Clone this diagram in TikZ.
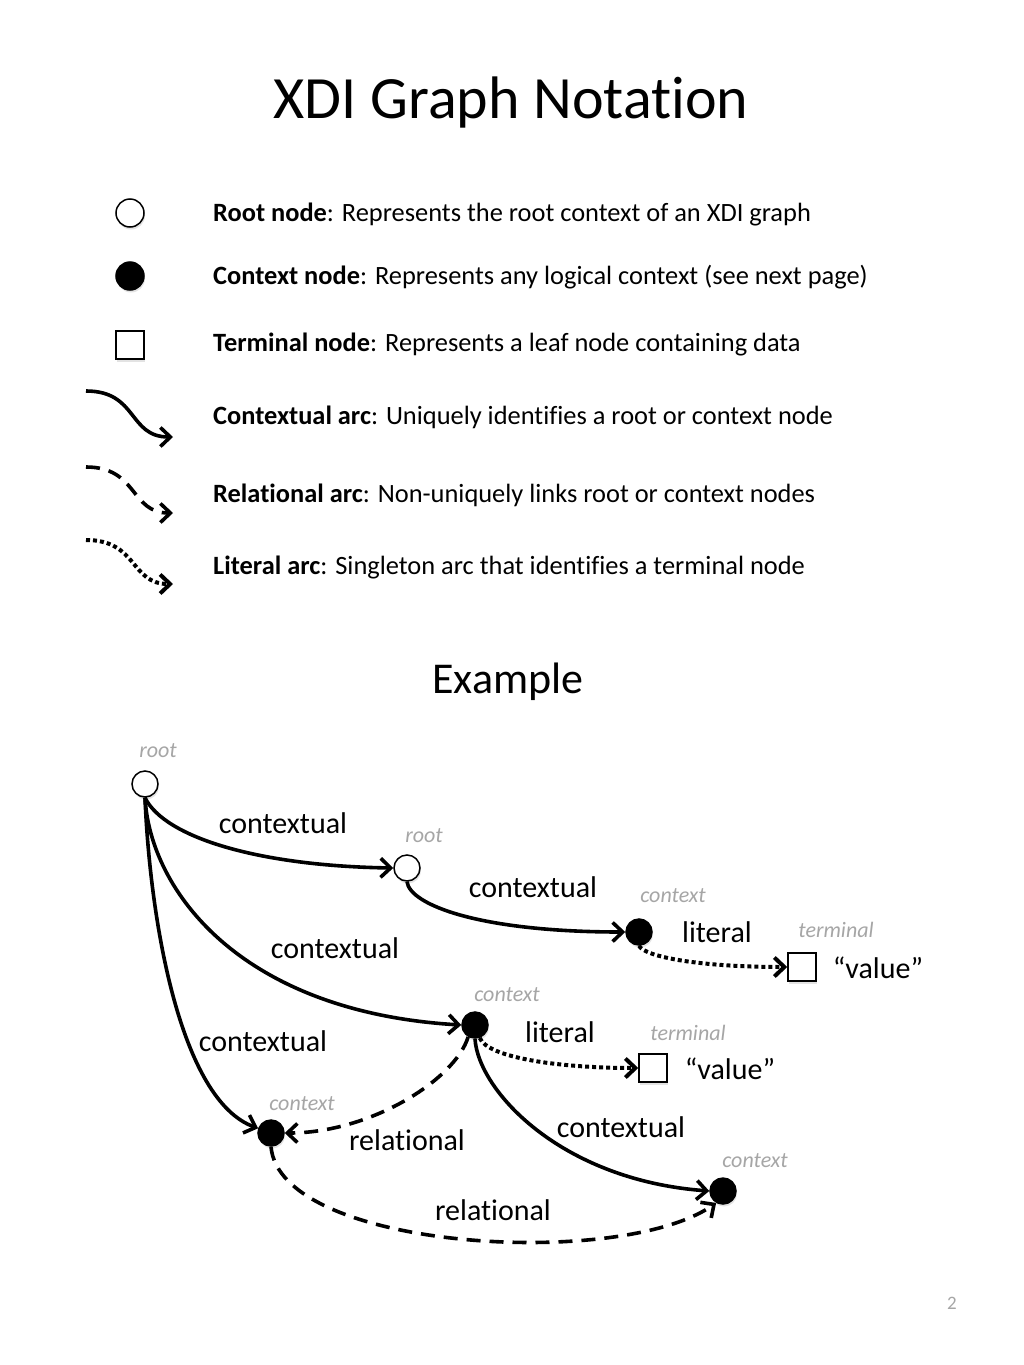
\documentclass[tikz,border=0pt]{standalone}
\usepackage{fontspec}
\setmainfont{Carlito}[Ligatures=CommonOff]
\usetikzlibrary{arrows.meta,shadows}
\definecolor{lblgray}{RGB}{166,166,166}
\begin{document}
\begin{tikzpicture}[x=1pt,y=-1pt,
  shad/.style={drop shadow={opacity=0.22,shadow xshift=1pt,shadow yshift=-2.5pt}},
  rootn/.style={circle,draw,line width=1.5pt,fill=white,minimum size=26pt,inner sep=0pt,shad},
  ctxn/.style={circle,draw,line width=1.5pt,fill=black,minimum size=26pt,inner sep=0pt,shad},
  termn/.style={rectangle,draw,line width=1.5pt,fill=white,minimum size=28pt,inner sep=0pt,shad},
  tip/.style={-{Straight Barb[length=10pt,width=19pt]}},
  carc/.style={line width=3.6pt,tip},
  rarc/.style={line width=3.6pt,tip,dash pattern=on 14pt off 9pt},
  larc/.style={line width=4pt,tip,dash pattern=on 4pt off 3pt},
  legtxt/.style={anchor=base west,inner sep=0pt,font=\fontsize{26.4}{31}\selectfont},
  lbl/.style={anchor=base,inner sep=0pt,font=\fontsize{30}{36}\selectfont},
  glbl/.style={anchor=base,inner sep=0pt,text=lblgray,font=\fontsize{22}{26}\selectfont\itshape}
]
\useasboundingbox[fill=white] (0,0) rectangle (1024,1365);

% title
\node[anchor=base,inner sep=0pt,font=\fontsize{60}{70}\selectfont] (title) at (511,118) {XDI Graph Notation};

% legend symbols
\node[rootn,minimum size=28pt] (lroot) at (130,213) {};
\node[ctxn,minimum size=28pt] (lctx) at (130,276) {};
\node[termn] (lterm) at (130,345) {};
\coordinate (la1) at (86,391); \coordinate (lb1) at (173,437);
\coordinate (la2) at (86,467); \coordinate (lb2) at (173,513);
\coordinate (la3) at (86,540); \coordinate (lb3) at (173,584);
\draw[carc] (la1) .. controls (138,391) and (128,437) .. (lb1);
\draw[rarc] (la2) .. controls (138,467) and (130,513) .. (lb2);
\draw[larc] (la3) .. controls (138,540) and (130,584) .. (lb3);

% legend texts
\node[legtxt] (t1) at (213,221) {\textbf{Root node}: Represents the root context of an XDI graph};
\node[legtxt] (t2) at (213,284) {\textbf{Context node}: Represents any logical context (see next page)};
\node[legtxt] (t3) at (213,351) {\textbf{Terminal node}: Represents a leaf node containing data};
\node[legtxt] (t4) at (213,424) {\textbf{Contextual arc}: Uniquely identifies a root or context node};
\node[legtxt] (t5) at (213,502) {\textbf{Relational arc}: Non-uniquely links root or context nodes};
\node[legtxt] (t6) at (213,574) {\textbf{Literal arc}: Singleton arc that identifies a terminal node};

% example heading
\node[anchor=base,inner sep=0pt,font=\fontsize{44}{52}\selectfont] (ex) at (508,693) {Example};

% example nodes
\node[rootn] (r1) at (145,784) {};
\node[rootn] (r2) at (407,868) {};
\node[ctxn] (c1) at (639,932) {};
\node[termn] (tm1) at (802,967) {};
\node[ctxn] (c2) at (475,1025) {};
\node[termn] (tm2) at (653,1068) {};
\node[ctxn] (c3) at (271,1133) {};
\node[ctxn] (c4) at (723,1191) {};

% gray labels
\node[glbl] (g1) at (158,757) {root};
\node[glbl] (g2) at (424,842) {root};
\node[glbl] (g3) at (673,902) {context};
\node[glbl] (g4) at (836,937) {terminal};
\node[glbl] (g5) at (507,1001) {context};
\node[glbl] (g6) at (688,1040) {terminal};
\node[glbl] (g7) at (302,1110) {context};
\node[glbl] (g8) at (755,1167) {context};

% edges
\draw[carc] (r1.south) .. controls (165,838) and (260,866) .. (r2.west);
\draw[carc] (r2.south) .. controls (410,905) and (480,932) .. (c1.west);
\draw[larc] (c1.south) .. controls (645,957) and (700,967) .. (tm1.west);
\draw[carc] (r1.south) .. controls (150,890) and (240,1012) .. (c2.west);
\draw[larc] (c2.290) .. controls (488,1058) and (560,1068) .. (tm2.west);
\draw[carc] (r1.south) .. controls (150,920) and (180,1100) .. (c3.160);
\draw[rarc] (c2.240) .. controls (455,1080) and (370,1133) .. (c3.east);
\draw[carc] (c2.south) .. controls (478,1090) and (560,1180) .. (c4.west);
\draw[rarc] (c3.south) .. controls (280,1250) and (620,1270) .. (c4.240);

% edge labels
\node[lbl] (e1) at (283,833) {contextual};
\node[lbl] (e2) at (533,897) {contextual};
\node[lbl] (e3) at (717,942) {literal};
\node[lbl] (v1) at (878,978) {“value”};
\node[lbl] (e4) at (335,958) {contextual};
\node[lbl] (e5) at (560,1042) {literal};
\node[lbl] (v2) at (730,1079) {“value”};
\node[lbl] (e6) at (263,1051) {contextual};
\node[lbl] (e7) at (407,1150) {relational};
\node[lbl] (e8) at (621,1137) {contextual};
\node[lbl] (e9) at (493,1220) {relational};

% page number
\node[anchor=base,inner sep=0pt,text=lblgray,font=\fontsize{19}{22}\selectfont] (pg) at (952,1309) {2};
\end{tikzpicture}
\end{document}
